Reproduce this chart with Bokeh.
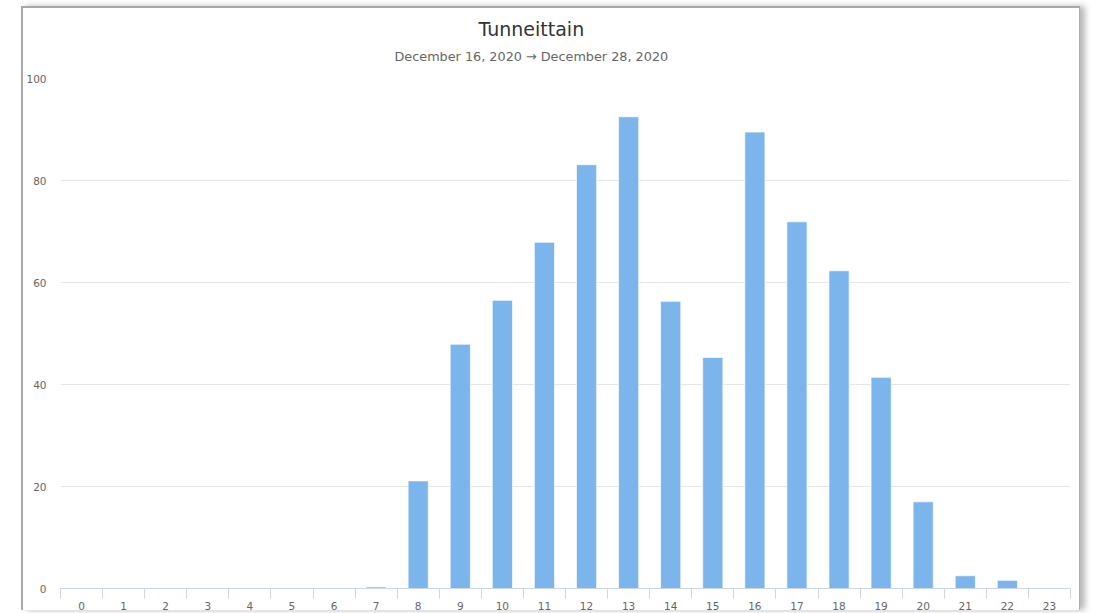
from bokeh.plotting import figure
from bokeh.models import Range1d, FixedTicker, Title
from bokeh.embed import file_html
from bokeh.resources import INLINE

title_text = "Tunneittain"
subtitle_text = "December 16, 2020 \u2192 December 28, 2020"
hours = list(range(24))
counts = [0, 0, 0, 0, 0, 0, 0, 0.3, 21.1, 47.9, 56.5, 67.9, 83.1, 92.5,
          56.3, 45.3, 89.5, 71.9, 62.3, 41.4, 17.0, 2.5, 1.6, 0]
y_ticks = [0, 20, 40, 60, 80, 100]

FONT = "DejaVu Sans"

p = figure(width=1059, height=604, output_backend="svg", toolbar_location=None,
           x_range=Range1d(-0.5, 23.5), y_range=Range1d(0, 100),
           min_border_left=37, min_border_right=12, min_border_top=70, min_border_bottom=24,
           title=None, margin=(6, 0, 0, 21),
           styles={"border-top": "2px solid #a8a8a8", "border-left": "2px solid #a8a8a8",
                   "border-right": "1px solid #b0b0b0",
                   "box-shadow": "5px 0 6px rgba(0,0,0,0.28)"})
p.background_fill_color = "white"
p.border_fill_color = "white"
p.outline_line_color = None

p.vbar(x=hours, top=counts, width=0.48, bottom=0,
       fill_color="#7cb5ec", line_color="white", line_width=1, line_alpha=0.7)

# x axis
xa = p.xaxis[0]
xa.ticker = FixedTicker(ticks=hours, minor_ticks=[h - 0.5 for h in range(25)])
xa.axis_line_color = "#ccd6eb"
xa.major_tick_line_color = None
xa.major_tick_out = 0
xa.major_tick_in = 0
xa.minor_tick_line_color = "#ccd6eb"
xa.minor_tick_out = 10
xa.minor_tick_in = 0
xa.major_label_text_color = "#666666"
xa.major_label_text_font = FONT
xa.major_label_text_font_size = "10.5px"
xa.major_label_standoff = 3

# y axis
ya = p.yaxis[0]
ya.ticker = FixedTicker(ticks=y_ticks)
ya.axis_line_color = None
ya.major_tick_line_color = None
ya.minor_tick_line_color = None
ya.major_tick_out = 0
ya.major_tick_in = 0
ya.major_label_standoff = 14
ya.major_label_text_color = "#666666"
ya.major_label_text_font = FONT
ya.major_label_text_font_size = "10.5px"

p.xgrid.grid_line_color = None
p.ygrid.grid_line_color = "#e6e6e6"
p.ygrid.ticker = FixedTicker(ticks=y_ticks)

# subtitle first (closest to the frame), then main title
p.add_layout(Title(text=subtitle_text, align="left", offset=334, vertical_align="top",
                   standoff=26, text_color="#666666", text_font=FONT,
                   text_font_size="12.8px", text_font_style="normal"), "above")
p.add_layout(Title(text=title_text, align="left", offset=418, vertical_align="top",
                   standoff=-12, text_color="#333333", text_font=FONT,
                   text_font_size="19px", text_font_style="normal"), "above")

open("out.html", "w").write(file_html(p, INLINE))
